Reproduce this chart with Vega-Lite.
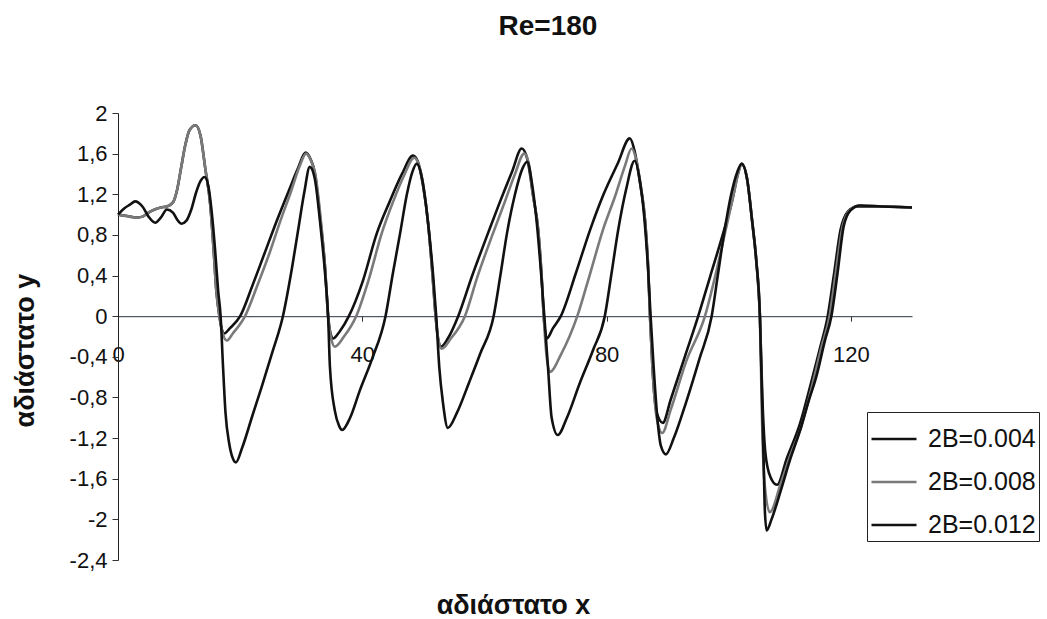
{
"$schema": "https://vega.github.io/schema/vega-lite/v6.json",
"width": 794, "height": 447,
"autosize": {"type": "none"},
"padding": {"left": 118, "top": 113, "right": 135, "bottom": 59},
"background": "white",
"title": {"text": "Re=180", "fontSize": 28, "fontWeight": "bold", "font": "Liberation Sans", "color": "#111", "anchor": "middle", "dx": 33, "offset": 39, "baseline": "alphabetic"},
"data": {"values": [
{"s":"2B=0.004","x":0,"y":1.0},{"s":"2B=0.004","x":1,"y":0.99},{"s":"2B=0.004","x":2,"y":0.98},{"s":"2B=0.004","x":3,"y":0.97},{"s":"2B=0.004","x":4,"y":0.98},{"s":"2B=0.004","x":5,"y":1.02},{"s":"2B=0.004","x":6,"y":1.05},{"s":"2B=0.004","x":7,"y":1.07},{"s":"2B=0.004","x":8,"y":1.08},{"s":"2B=0.004","x":9,"y":1.12},{"s":"2B=0.004","x":9.7,"y":1.25},{"s":"2B=0.004","x":10.3,"y":1.45},{"s":"2B=0.004","x":11,"y":1.68},{"s":"2B=0.004","x":11.7,"y":1.83},{"s":"2B=0.004","x":12.7,"y":1.88},{"s":"2B=0.004","x":13.5,"y":1.78},{"s":"2B=0.004","x":14.3,"y":1.45},{"s":"2B=0.004","x":15.1,"y":1.1},{"s":"2B=0.004","x":15.6,"y":0.7},{"s":"2B=0.004","x":16.1,"y":0.25},{"s":"2B=0.004","x":16.6,"y":0},{"s":"2B=0.004","x":17,"y":-0.13},{"s":"2B=0.004","x":17.4,"y":-0.17},{"s":"2B=0.004","x":18.3,"y":-0.12},{"s":"2B=0.004","x":20,"y":0},{"s":"2B=0.004","x":22,"y":0.3},{"s":"2B=0.004","x":24,"y":0.62},{"s":"2B=0.004","x":26,"y":0.94},{"s":"2B=0.004","x":28,"y":1.24},{"s":"2B=0.004","x":29.5,"y":1.46},{"s":"2B=0.004","x":30.7,"y":1.61},{"s":"2B=0.004","x":31.5,"y":1.55},{"s":"2B=0.004","x":32.2,"y":1.42},{"s":"2B=0.004","x":33.1,"y":0.97},{"s":"2B=0.004","x":33.9,"y":0.48},{"s":"2B=0.004","x":34.4,"y":0},{"s":"2B=0.004","x":34.8,"y":-0.17},{"s":"2B=0.004","x":35.2,"y":-0.22},{"s":"2B=0.004","x":36.3,"y":-0.15},{"s":"2B=0.004","x":37.8,"y":0},{"s":"2B=0.004","x":40,"y":0.33},{"s":"2B=0.004","x":42.4,"y":0.82},{"s":"2B=0.004","x":44.5,"y":1.13},{"s":"2B=0.004","x":46.5,"y":1.4},{"s":"2B=0.004","x":48.3,"y":1.58},{"s":"2B=0.004","x":49.1,"y":1.52},{"s":"2B=0.004","x":49.9,"y":1.3},{"s":"2B=0.004","x":50.8,"y":0.9},{"s":"2B=0.004","x":51.5,"y":0.4},{"s":"2B=0.004","x":52,"y":0},{"s":"2B=0.004","x":52.4,"y":-0.22},{"s":"2B=0.004","x":52.9,"y":-0.3},{"s":"2B=0.004","x":54,"y":-0.22},{"s":"2B=0.004","x":55.7,"y":0},{"s":"2B=0.004","x":58,"y":0.4},{"s":"2B=0.004","x":60.6,"y":0.82},{"s":"2B=0.004","x":62.5,"y":1.12},{"s":"2B=0.004","x":64.5,"y":1.42},{"s":"2B=0.004","x":66.1,"y":1.65},{"s":"2B=0.004","x":67,"y":1.55},{"s":"2B=0.004","x":68,"y":1.17},{"s":"2B=0.004","x":68.8,"y":0.85},{"s":"2B=0.004","x":69.4,"y":0.35},{"s":"2B=0.004","x":69.7,"y":0},{"s":"2B=0.004","x":70.2,"y":-0.22},{"s":"2B=0.004","x":71.2,"y":-0.12},{"s":"2B=0.004","x":72.5,"y":0},{"s":"2B=0.004","x":75,"y":0.43},{"s":"2B=0.004","x":77.3,"y":0.85},{"s":"2B=0.004","x":79.5,"y":1.2},{"s":"2B=0.004","x":81.8,"y":1.5},{"s":"2B=0.004","x":83.8,"y":1.75},{"s":"2B=0.004","x":84.6,"y":1.62},{"s":"2B=0.004","x":85.5,"y":1.3},{"s":"2B=0.004","x":86.3,"y":0.94},{"s":"2B=0.004","x":86.8,"y":0.48},{"s":"2B=0.004","x":87.1,"y":0},{"s":"2B=0.004","x":87.5,"y":-0.5},{"s":"2B=0.004","x":88.2,"y":-0.95},{"s":"2B=0.004","x":89.2,"y":-1.05},{"s":"2B=0.004","x":90.5,"y":-0.82},{"s":"2B=0.004","x":92.8,"y":-0.4},{"s":"2B=0.004","x":95,"y":0},{"s":"2B=0.004","x":97,"y":0.4},{"s":"2B=0.004","x":99,"y":0.8},{"s":"2B=0.004","x":100.6,"y":1.15},{"s":"2B=0.004","x":101.5,"y":1.4},{"s":"2B=0.004","x":102.1,"y":1.5},{"s":"2B=0.004","x":103,"y":1.35},{"s":"2B=0.004","x":103.8,"y":0.95},{"s":"2B=0.004","x":104.5,"y":0.55},{"s":"2B=0.004","x":105.1,"y":0},{"s":"2B=0.004","x":105.5,"y":-0.8},{"s":"2B=0.004","x":106,"y":-1.35},{"s":"2B=0.004","x":106.8,"y":-1.58},{"s":"2B=0.004","x":107.9,"y":-1.66},{"s":"2B=0.004","x":109.5,"y":-1.4},{"s":"2B=0.004","x":111.7,"y":-1.05},{"s":"2B=0.004","x":113.5,"y":-0.65},{"s":"2B=0.004","x":115,"y":-0.3},{"s":"2B=0.004","x":116.2,"y":0},{"s":"2B=0.004","x":117.2,"y":0.4},{"s":"2B=0.004","x":118.3,"y":0.85},{"s":"2B=0.004","x":119.5,"y":1.03},{"s":"2B=0.004","x":121,"y":1.08},{"s":"2B=0.004","x":125,"y":1.08},{"s":"2B=0.004","x":130,"y":1.07},
{"s":"2B=0.008","x":0,"y":1.0},{"s":"2B=0.008","x":1,"y":0.99},{"s":"2B=0.008","x":2,"y":0.98},{"s":"2B=0.008","x":3,"y":0.97},{"s":"2B=0.008","x":4,"y":0.98},{"s":"2B=0.008","x":5,"y":1.02},{"s":"2B=0.008","x":6,"y":1.05},{"s":"2B=0.008","x":7,"y":1.07},{"s":"2B=0.008","x":8,"y":1.08},{"s":"2B=0.008","x":9,"y":1.12},{"s":"2B=0.008","x":9.7,"y":1.25},{"s":"2B=0.008","x":10.3,"y":1.45},{"s":"2B=0.008","x":11,"y":1.68},{"s":"2B=0.008","x":11.7,"y":1.83},{"s":"2B=0.008","x":12.7,"y":1.88},{"s":"2B=0.008","x":13.5,"y":1.78},{"s":"2B=0.008","x":14.3,"y":1.45},{"s":"2B=0.008","x":15.1,"y":1.1},{"s":"2B=0.008","x":15.6,"y":0.7},{"s":"2B=0.008","x":16.1,"y":0.25},{"s":"2B=0.008","x":16.6,"y":0},{"s":"2B=0.008","x":17.2,"y":-0.18},{"s":"2B=0.008","x":17.8,"y":-0.24},{"s":"2B=0.008","x":18.8,"y":-0.17},{"s":"2B=0.008","x":20.8,"y":0},{"s":"2B=0.008","x":22.8,"y":0.3},{"s":"2B=0.008","x":24.8,"y":0.62},{"s":"2B=0.008","x":26.6,"y":0.94},{"s":"2B=0.008","x":28.4,"y":1.24},{"s":"2B=0.008","x":29.7,"y":1.47},{"s":"2B=0.008","x":30.8,"y":1.6},{"s":"2B=0.008","x":31.6,"y":1.53},{"s":"2B=0.008","x":32.3,"y":1.4},{"s":"2B=0.008","x":33.2,"y":0.95},{"s":"2B=0.008","x":33.9,"y":0.48},{"s":"2B=0.008","x":34.4,"y":0},{"s":"2B=0.008","x":34.9,"y":-0.22},{"s":"2B=0.008","x":35.5,"y":-0.3},{"s":"2B=0.008","x":37,"y":-0.2},{"s":"2B=0.008","x":39,"y":0},{"s":"2B=0.008","x":41,"y":0.35},{"s":"2B=0.008","x":43.2,"y":0.82},{"s":"2B=0.008","x":45,"y":1.12},{"s":"2B=0.008","x":46.8,"y":1.38},{"s":"2B=0.008","x":48.5,"y":1.56},{"s":"2B=0.008","x":49.2,"y":1.5},{"s":"2B=0.008","x":50,"y":1.28},{"s":"2B=0.008","x":50.8,"y":0.9},{"s":"2B=0.008","x":51.5,"y":0.4},{"s":"2B=0.008","x":52,"y":0},{"s":"2B=0.008","x":52.5,"y":-0.25},{"s":"2B=0.008","x":53,"y":-0.32},{"s":"2B=0.008","x":54.5,"y":-0.22},{"s":"2B=0.008","x":56.8,"y":0},{"s":"2B=0.008","x":58.8,"y":0.38},{"s":"2B=0.008","x":61.3,"y":0.8},{"s":"2B=0.008","x":63.3,"y":1.12},{"s":"2B=0.008","x":65,"y":1.4},{"s":"2B=0.008","x":66.5,"y":1.6},{"s":"2B=0.008","x":67.2,"y":1.52},{"s":"2B=0.008","x":68,"y":1.17},{"s":"2B=0.008","x":68.8,"y":0.85},{"s":"2B=0.008","x":69.4,"y":0.35},{"s":"2B=0.008","x":69.7,"y":0},{"s":"2B=0.008","x":70.1,"y":-0.35},{"s":"2B=0.008","x":70.7,"y":-0.55},{"s":"2B=0.008","x":72.5,"y":-0.38},{"s":"2B=0.008","x":75.2,"y":0},{"s":"2B=0.008","x":77.3,"y":0.42},{"s":"2B=0.008","x":79.4,"y":0.85},{"s":"2B=0.008","x":81.5,"y":1.2},{"s":"2B=0.008","x":83,"y":1.48},{"s":"2B=0.008","x":84.1,"y":1.65},{"s":"2B=0.008","x":84.8,"y":1.55},{"s":"2B=0.008","x":85.6,"y":1.28},{"s":"2B=0.008","x":86.3,"y":0.94},{"s":"2B=0.008","x":86.8,"y":0.48},{"s":"2B=0.008","x":87.1,"y":0},{"s":"2B=0.008","x":87.5,"y":-0.5},{"s":"2B=0.008","x":88.2,"y":-1.0},{"s":"2B=0.008","x":89.1,"y":-1.15},{"s":"2B=0.008","x":90.5,"y":-0.92},{"s":"2B=0.008","x":93,"y":-0.45},{"s":"2B=0.008","x":96.1,"y":0},{"s":"2B=0.008","x":98,"y":0.45},{"s":"2B=0.008","x":99.5,"y":0.85},{"s":"2B=0.008","x":100.8,"y":1.2},{"s":"2B=0.008","x":101.6,"y":1.42},{"s":"2B=0.008","x":102.1,"y":1.5},{"s":"2B=0.008","x":103,"y":1.35},{"s":"2B=0.008","x":103.8,"y":0.95},{"s":"2B=0.008","x":104.5,"y":0.55},{"s":"2B=0.008","x":105.1,"y":0},{"s":"2B=0.008","x":105.4,"y":-0.9},{"s":"2B=0.008","x":105.8,"y":-1.6},{"s":"2B=0.008","x":106.7,"y":-1.93},{"s":"2B=0.008","x":108.5,"y":-1.65},{"s":"2B=0.008","x":110.2,"y":-1.35},{"s":"2B=0.008","x":111.7,"y":-1.12},{"s":"2B=0.008","x":113.5,"y":-0.72},{"s":"2B=0.008","x":115.2,"y":-0.3},{"s":"2B=0.008","x":116.5,"y":0},{"s":"2B=0.008","x":117.5,"y":0.42},{"s":"2B=0.008","x":118.6,"y":0.87},{"s":"2B=0.008","x":119.8,"y":1.04},{"s":"2B=0.008","x":121.5,"y":1.09},{"s":"2B=0.008","x":125,"y":1.08},{"s":"2B=0.008","x":130,"y":1.07},
{"s":"2B=0.012","x":0,"y":1.0},{"s":"2B=0.012","x":1,"y":1.06},{"s":"2B=0.012","x":2,"y":1.1},{"s":"2B=0.012","x":2.8,"y":1.13},{"s":"2B=0.012","x":4,"y":1.08},{"s":"2B=0.012","x":5,"y":0.98},{"s":"2B=0.012","x":6.1,"y":0.92},{"s":"2B=0.012","x":7,"y":0.97},{"s":"2B=0.012","x":8,"y":1.05},{"s":"2B=0.012","x":9,"y":1.02},{"s":"2B=0.012","x":9.7,"y":0.95},{"s":"2B=0.012","x":10.4,"y":0.91},{"s":"2B=0.012","x":11.2,"y":0.94},{"s":"2B=0.012","x":12,"y":1.05},{"s":"2B=0.012","x":12.8,"y":1.22},{"s":"2B=0.012","x":13.5,"y":1.33},{"s":"2B=0.012","x":14.2,"y":1.37},{"s":"2B=0.012","x":14.8,"y":1.28},{"s":"2B=0.012","x":15.3,"y":1.05},{"s":"2B=0.012","x":15.9,"y":0.65},{"s":"2B=0.012","x":16.4,"y":0.25},{"s":"2B=0.012","x":16.8,"y":0},{"s":"2B=0.012","x":17.2,"y":-0.5},{"s":"2B=0.012","x":17.6,"y":-0.95},{"s":"2B=0.012","x":18.2,"y":-1.25},{"s":"2B=0.012","x":18.8,"y":-1.4},{"s":"2B=0.012","x":19.3,"y":-1.44},{"s":"2B=0.012","x":20.3,"y":-1.3},{"s":"2B=0.012","x":22,"y":-0.98},{"s":"2B=0.012","x":23.5,"y":-0.7},{"s":"2B=0.012","x":25.3,"y":-0.35},{"s":"2B=0.012","x":27,"y":0},{"s":"2B=0.012","x":28.5,"y":0.48},{"s":"2B=0.012","x":29.5,"y":0.85},{"s":"2B=0.012","x":30.5,"y":1.22},{"s":"2B=0.012","x":31.4,"y":1.47},{"s":"2B=0.012","x":32.2,"y":1.36},{"s":"2B=0.012","x":33.1,"y":0.92},{"s":"2B=0.012","x":33.9,"y":0.42},{"s":"2B=0.012","x":34.4,"y":0},{"s":"2B=0.012","x":34.7,"y":-0.5},{"s":"2B=0.012","x":35.5,"y":-0.93},{"s":"2B=0.012","x":36.2,"y":-1.08},{"s":"2B=0.012","x":36.7,"y":-1.12},{"s":"2B=0.012","x":38,"y":-1.0},{"s":"2B=0.012","x":39.6,"y":-0.73},{"s":"2B=0.012","x":41.6,"y":-0.42},{"s":"2B=0.012","x":43.8,"y":0},{"s":"2B=0.012","x":45,"y":0.42},{"s":"2B=0.012","x":46.2,"y":0.82},{"s":"2B=0.012","x":47.3,"y":1.2},{"s":"2B=0.012","x":48.2,"y":1.42},{"s":"2B=0.012","x":48.9,"y":1.5},{"s":"2B=0.012","x":49.8,"y":1.35},{"s":"2B=0.012","x":50.8,"y":0.9},{"s":"2B=0.012","x":51.6,"y":0.4},{"s":"2B=0.012","x":52.1,"y":0},{"s":"2B=0.012","x":52.6,"y":-0.5},{"s":"2B=0.012","x":53.2,"y":-0.85},{"s":"2B=0.012","x":54,"y":-1.1},{"s":"2B=0.012","x":55.5,"y":-0.95},{"s":"2B=0.012","x":57.5,"y":-0.65},{"s":"2B=0.012","x":59.3,"y":-0.37},{"s":"2B=0.012","x":61.5,"y":0},{"s":"2B=0.012","x":62.6,"y":0.4},{"s":"2B=0.012","x":63.7,"y":0.82},{"s":"2B=0.012","x":65,"y":1.2},{"s":"2B=0.012","x":66.2,"y":1.45},{"s":"2B=0.012","x":67,"y":1.52},{"s":"2B=0.012","x":67.8,"y":1.3},{"s":"2B=0.012","x":68.6,"y":0.9},{"s":"2B=0.012","x":69.3,"y":0.4},{"s":"2B=0.012","x":69.8,"y":0},{"s":"2B=0.012","x":70.4,"y":-0.5},{"s":"2B=0.012","x":71,"y":-1.0},{"s":"2B=0.012","x":72,"y":-1.17},{"s":"2B=0.012","x":73.5,"y":-1.0},{"s":"2B=0.012","x":75.6,"y":-0.66},{"s":"2B=0.012","x":77.8,"y":-0.33},{"s":"2B=0.012","x":79.7,"y":0},{"s":"2B=0.012","x":80.8,"y":0.42},{"s":"2B=0.012","x":81.9,"y":0.85},{"s":"2B=0.012","x":83.2,"y":1.25},{"s":"2B=0.012","x":84.6,"y":1.53},{"s":"2B=0.012","x":85.4,"y":1.35},{"s":"2B=0.012","x":86.2,"y":0.95},{"s":"2B=0.012","x":86.8,"y":0.45},{"s":"2B=0.012","x":87.2,"y":0},{"s":"2B=0.012","x":87.7,"y":-0.5},{"s":"2B=0.012","x":88.3,"y":-1.0},{"s":"2B=0.012","x":88.9,"y":-1.28},{"s":"2B=0.012","x":89.7,"y":-1.36},{"s":"2B=0.012","x":91,"y":-1.2},{"s":"2B=0.012","x":93,"y":-0.85},{"s":"2B=0.012","x":95.2,"y":-0.42},{"s":"2B=0.012","x":97.2,"y":0},{"s":"2B=0.012","x":98.2,"y":0.4},{"s":"2B=0.012","x":99.2,"y":0.8},{"s":"2B=0.012","x":100.4,"y":1.2},{"s":"2B=0.012","x":101.4,"y":1.42},{"s":"2B=0.012","x":102.1,"y":1.5},{"s":"2B=0.012","x":103,"y":1.35},{"s":"2B=0.012","x":103.8,"y":0.95},{"s":"2B=0.012","x":104.5,"y":0.55},{"s":"2B=0.012","x":105.1,"y":0},{"s":"2B=0.012","x":105.4,"y":-0.7},{"s":"2B=0.012","x":105.7,"y":-1.4},{"s":"2B=0.012","x":105.9,"y":-1.9},{"s":"2B=0.012","x":106.2,"y":-2.11},{"s":"2B=0.012","x":107,"y":-2.0},{"s":"2B=0.012","x":108.5,"y":-1.72},{"s":"2B=0.012","x":110,"y":-1.42},{"s":"2B=0.012","x":111.7,"y":-1.12},{"s":"2B=0.012","x":113,"y":-0.85},{"s":"2B=0.012","x":114.4,"y":-0.58},{"s":"2B=0.012","x":115.7,"y":-0.25},{"s":"2B=0.012","x":116.8,"y":0},{"s":"2B=0.012","x":117.8,"y":0.42},{"s":"2B=0.012","x":118.8,"y":0.88},{"s":"2B=0.012","x":119.9,"y":1.04},{"s":"2B=0.012","x":121.5,"y":1.09},{"s":"2B=0.012","x":125,"y":1.08},{"s":"2B=0.012","x":130,"y":1.07}
]},
"mark": {"type": "line", "strokeWidth": 2.6, "interpolate": "monotone"},
"encoding": {
 "x": {"field": "x", "type": "quantitative", "scale": {"domain": [0, 130], "nice": false, "zero": false},
  "axis": {"title": "αδιάστατο x", "values": [0, 40, 80, 120], "format": "d", "offset": -243.8, "domainColor": "#2a3040", "domainWidth": 1, "tickColor": "#333", "tickSize": 5, "labelFontSize": 22, "labelFont": "Liberation Sans", "labelColor": "#111", "labelPadding": 23, "labelFlush": false, "labelOverlap": false, "grid": false, "titleFont": "Liberation Sans", "titleFontSize": 27, "titleFontWeight": "bold", "titleColor": "#111", "titleX": 395, "titleY": 297, "titleBaseline": "alphabetic", "titleAlign": "center"}},
 "y": {"field": "y", "type": "quantitative", "scale": {"domain": [-2.4, 2], "nice": false, "zero": false},
  "axis": {"title": "αδιάστατο y", "values": [-2.4, -2, -1.6, -1.2, -0.8, -0.4, 0, 0.4, 0.8, 1.2, 1.6, 2], "labelExpr": "replace(toString(datum.value), '.', ',')", "tickSize": 6, "tickColor": "#333", "domainColor": "#222", "labelPadding": 5, "labelFontSize": 22, "labelFont": "Liberation Sans", "labelColor": "#111", "labelOverlap": false, "grid": false, "titleFont": "Liberation Sans", "titleFontSize": 27, "titleFontWeight": "bold", "titleColor": "#111", "titleX": -93, "titleY": 237, "titleAngle": -90, "titleAlign": "center", "titleBaseline": "middle"}},
 "color": {"field": "s", "type": "nominal", "scale": {"domain": ["2B=0.004", "2B=0.008", "2B=0.012"], "range": ["#111111", "#7a7a7a", "#111111"]},
  "legend": {"orient": "none", "legendX": 749, "legendY": 299, "title": null, "symbolType": "stroke", "symbolSize": 2025, "symbolStrokeWidth": 2.5, "labelFontSize": 25, "labelFont": "Liberation Sans", "labelColor": "#111", "labelOffset": 10, "rowPadding": 6, "padding": 3, "strokeColor": "#222", "fillColor": "white"}}
},
"config": {"view": {"stroke": null}}
}
